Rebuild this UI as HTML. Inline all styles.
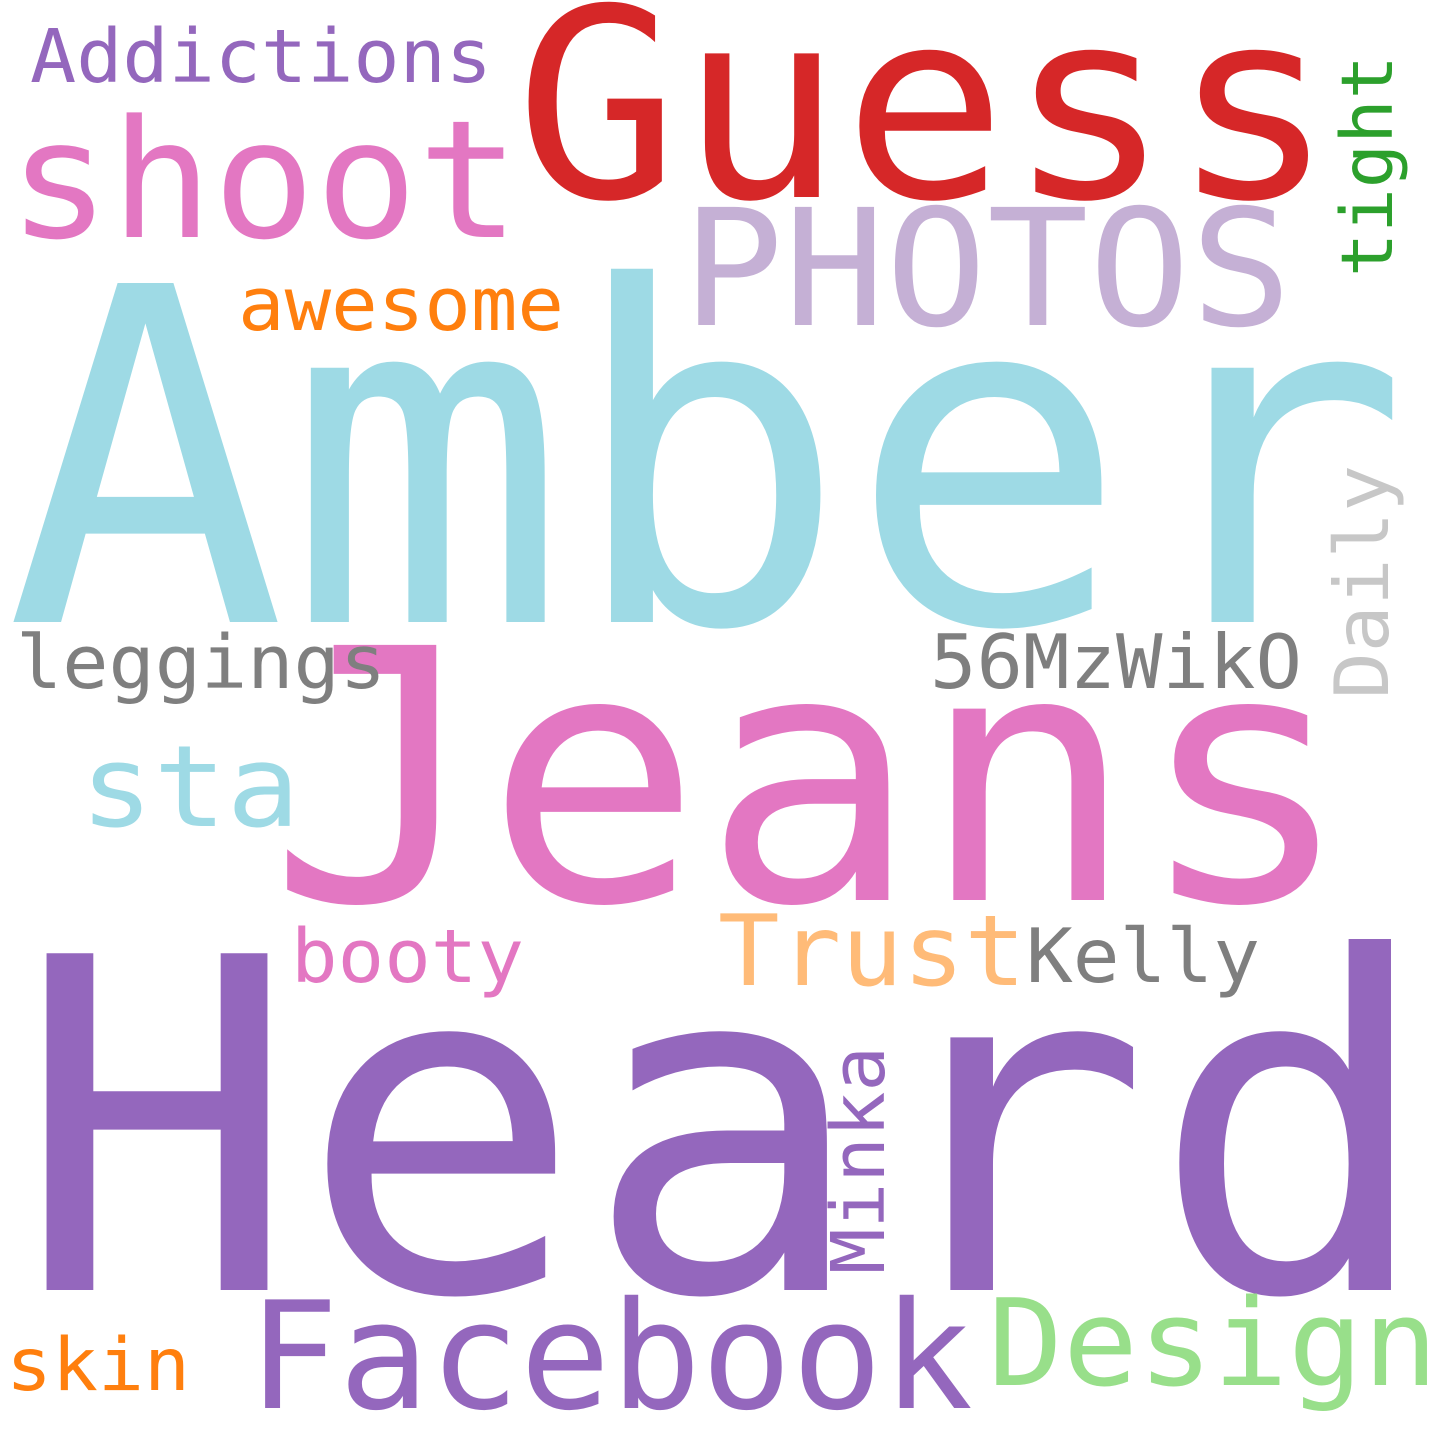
<!DOCTYPE html>
<html><head><meta charset="utf-8"><style>
html,body{margin:0;padding:0;background:#fff;}
svg{display:block;}
text{font-family:"DejaVu Sans Mono","Liberation Mono",monospace;}
</style></head><body>
<svg width="1440" height="1440" viewBox="0 0 1440 1440">
<rect width="1440" height="1440" fill="#fff"/>
<text x="5" y="622" font-size="465" fill="#9edae5" textLength="1405" lengthAdjust="spacingAndGlyphs">Amber</text>
<text x="15" y="1290" font-size="462" fill="#9467bd" textLength="1420" lengthAdjust="spacingAndGlyphs">Heard</text>
<text x="268" y="900" font-size="350" fill="#e377c2" textLength="1085" lengthAdjust="spacingAndGlyphs">Jeans</text>
<text x="515" y="197" font-size="263" fill="#d62728" textLength="820" lengthAdjust="spacingAndGlyphs">Guess</text>
<text x="682" y="325" font-size="162" fill="#c5b0d5" textLength="610" lengthAdjust="spacingAndGlyphs">PHOTOS</text>
<text x="8" y="237" font-size="164" fill="#e377c2" textLength="512" lengthAdjust="spacingAndGlyphs">shoot</text>
<text x="30" y="82" font-size="74" fill="#9467bd" textLength="462" lengthAdjust="spacingAndGlyphs">Addictions</text>
<text x="238" y="330" font-size="74" fill="#ff7f0e" textLength="326" lengthAdjust="spacingAndGlyphs">awesome</text>
<text transform="translate(1392,277) rotate(-90)" font-size="71" fill="#2ca02c" textLength="222" lengthAdjust="spacingAndGlyphs">tight</text>
<text transform="translate(1388,699) rotate(-90)" font-size="75" fill="#c7c7c7" textLength="234" lengthAdjust="spacingAndGlyphs">Daily</text>
<text transform="translate(884,1274) rotate(-90)" font-size="74" fill="#9467bd" textLength="228" lengthAdjust="spacingAndGlyphs">Minka</text>
<text x="16" y="688" font-size="74" fill="#7f7f7f" textLength="370" lengthAdjust="spacingAndGlyphs">leggings</text>
<text x="930" y="688" font-size="75" fill="#7f7f7f" textLength="372" lengthAdjust="spacingAndGlyphs">56MzWikO</text>
<text x="80" y="826" font-size="113" fill="#9edae5" textLength="220" lengthAdjust="spacingAndGlyphs">sta</text>
<text x="291" y="982" font-size="74" fill="#e377c2" textLength="233" lengthAdjust="spacingAndGlyphs">booty</text>
<text x="718" y="985" font-size="98" fill="#ffbb78" textLength="308" lengthAdjust="spacingAndGlyphs">Trust</text>
<text x="1026" y="982" font-size="75" fill="#7f7f7f" textLength="234" lengthAdjust="spacingAndGlyphs">Kelly</text>
<text x="6" y="1390" font-size="73" fill="#ff7f0e" textLength="184" lengthAdjust="spacingAndGlyphs">skin</text>
<text x="248" y="1408" font-size="149" fill="#9467bd" textLength="725" lengthAdjust="spacingAndGlyphs">Facebook</text>
<text x="988" y="1385" font-size="120" fill="#98df8a" textLength="450" lengthAdjust="spacingAndGlyphs">Design</text>
</svg>
</body></html>
